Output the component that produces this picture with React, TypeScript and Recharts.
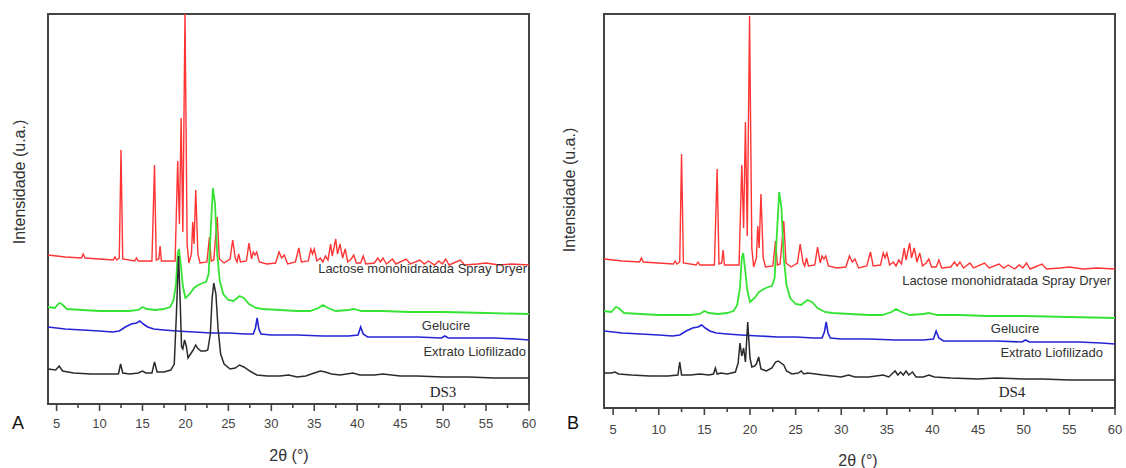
import React from "react";
import { LineChart, Line, XAxis, YAxis, ReferenceArea } from "recharts";

// 2θ (°) vs intensity (u.a.), stacked patterns
const LACTOSE: [number, number][] = [
  [4, 149], [6, 147], [7.9, 146], [8.1, 150], [8.3, 146], [11.6, 144], [11.8, 147], [12.0, 144],
  [12.3, 146], [12.5, 254], [12.7, 145], [14.1, 143], [14.3, 146], [14.5, 143], [16.1, 143],
  [16.4, 239], [16.6, 144], [16.9, 145], [17.05, 158], [17.2, 143], [18.8, 143], [19.1, 243],
  [19.3, 180], [19.5, 286], [19.7, 172], [19.95, 392], [20.2, 160], [20.4, 141], [20.7, 150],
  [20.85, 182], [21.0, 160], [21.2, 214], [21.45, 150], [21.7, 141], [22.5, 142], [22.8, 167],
  [23.0, 143], [23.3, 144], [23.7, 187], [23.95, 145], [24.5, 141], [25.2, 145], [25.5, 164],
  [25.8, 146], [26.0, 142], [26.2, 150], [26.4, 142], [27.1, 143], [27.4, 161], [27.7, 145],
  [27.9, 152], [28.1, 149], [28.3, 152], [28.6, 142], [29.5, 140], [30.5, 141], [30.9, 152],
  [31.2, 146], [31.5, 149], [31.9, 140], [32.8, 142], [33.2, 156], [33.5, 142], [34.3, 143],
  [34.6, 155], [34.8, 150], [35.0, 155], [35.3, 143], [35.7, 146], [36.0, 142], [36.3, 148],
  [36.6, 144], [36.9, 160], [37.1, 148], [37.5, 165], [37.7, 150], [38.0, 160], [38.3, 146],
  [38.6, 155], [38.9, 142], [39.3, 145], [39.6, 149], [39.9, 141], [40.4, 141], [40.7, 148],
  [41.0, 140], [42.0, 141], [42.4, 146], [42.7, 142], [43.0, 146], [43.4, 140], [44.1, 145],
  [44.5, 140], [45.7, 145], [46.2, 140], [47.3, 144], [47.8, 140], [48.3, 143], [49.0, 139],
  [49.5, 143], [49.9, 140], [50.3, 145], [50.7, 139], [52.0, 144], [52.5, 139], [54.0, 140],
  [55.0, 141], [56.5, 139], [58, 140], [60, 139],
];

const GELUCIRE: [number, number][] = [
  [4, 97], [4.8, 96], [5.3, 101], [5.6, 100], [6.2, 95], [8, 94], [10, 93], [12, 93], [13.5, 93],
  [14.5, 94], [15, 97], [15.5, 95], [16.5, 94], [17.5, 95], [18.2, 97], [18.6, 103], [18.9, 120],
  [19.1, 150], [19.25, 155], [19.45, 140], [19.7, 118], [20.0, 106], [20.5, 110], [21.0, 116],
  [21.5, 119], [22.0, 121], [22.4, 122], [22.7, 130], [22.95, 175], [23.2, 216], [23.45, 200],
  [23.7, 150], [24.0, 123], [24.4, 110], [25.0, 104], [25.6, 103], [26.3, 108], [26.8, 106],
  [27.4, 100], [28.2, 96], [29, 95], [31, 94], [33, 93], [34.5, 93], [35.5, 96], [36.0, 99],
  [36.6, 96], [37.5, 93], [39, 94], [39.6, 95], [40.5, 93], [43, 93], [46, 92], [50, 92],
  [55, 91], [60, 90],
];

const EXTRATO: [number, number][] = [
  [4, 77], [6, 75], [8, 74], [10, 73], [11.5, 72], [12.3, 73], [13, 77], [13.7, 80], [14.3, 81],
  [14.7, 83], [15.1, 80], [15.6, 77], [16.3, 75], [17.5, 74], [19, 73], [21, 72], [23, 71],
  [25, 71], [27, 70], [27.9, 70], [28.15, 76], [28.35, 86], [28.55, 75], [28.8, 70], [30, 69],
  [33, 69], [36, 68], [39, 68], [40.1, 69], [40.4, 77], [40.7, 70], [41.2, 67], [44, 67],
  [47, 67], [49.8, 66], [50.2, 68], [50.6, 66], [53, 66], [56, 66], [58.5, 65], [60, 64],
];

const DS3: [number, number][] = [
  [4, 35], [4.9, 34], [5.3, 38], [5.7, 33], [7, 31], [9, 30], [11, 30], [12.2, 30], [12.45, 40],
  [12.7, 31], [13.5, 30], [14.5, 31], [15.0, 33], [15.4, 31], [16.1, 31], [16.4, 42], [16.7, 32],
  [17.5, 32], [18.3, 34], [18.7, 40], [18.95, 90], [19.2, 148], [19.4, 100], [19.55, 57],
  [19.7, 55], [19.9, 64], [20.1, 58], [20.3, 46], [20.6, 50], [20.9, 54], [21.2, 59], [21.4, 56],
  [21.8, 53], [22.3, 53], [22.6, 54], [22.9, 70], [23.1, 105], [23.3, 121], [23.55, 110],
  [23.8, 75], [24.1, 50], [24.5, 40], [25.2, 35], [25.8, 36], [26.3, 39], [26.8, 37], [27.5, 33],
  [28.3, 29], [29.5, 28], [31, 28], [32, 29], [33, 27], [34, 28], [35, 31], [35.7, 33], [36.3, 32],
  [37, 30], [38, 29], [39.5, 31], [40.3, 29], [42, 29], [43, 30], [45, 28], [47, 28], [50, 27],
  [53, 27], [56, 26], [60, 26],
];

const DS4: [number, number][] = [
  [4, 35], [4.8, 35], [5.2, 36], [5.6, 34], [7, 33], [9, 32], [11, 32], [12.1, 33], [12.3, 46],
  [12.5, 33], [13.5, 33], [14.5, 34], [15.5, 33], [16.0, 34], [16.2, 40], [16.4, 34], [16.8, 35],
  [17.5, 34], [18.4, 36], [18.7, 45], [18.9, 65], [19.1, 52], [19.3, 60], [19.5, 46], [19.75, 86],
  [20.0, 50], [20.2, 41], [20.5, 42], [20.7, 44], [20.95, 51], [21.2, 39], [21.8, 37], [22.4, 40],
  [22.8, 46], [23.1, 47], [23.4, 45], [23.7, 43], [24.0, 37], [24.6, 34], [25.3, 35], [25.6, 37],
  [25.9, 34], [26.3, 35], [27.2, 34], [28.0, 33], [29, 32], [30, 31], [30.8, 33], [31.5, 31],
  [33, 31], [34.6, 33], [35.2, 31], [35.9, 37], [36.2, 33], [36.5, 36], [36.8, 33], [37.1, 37],
  [37.4, 33], [37.8, 36], [38.2, 31], [39, 31], [39.6, 33], [40.2, 31], [42, 30], [45, 29],
  [47, 30], [50, 29], [52, 29], [55, 28], [58, 28], [60, 28],
];

const X_TICKS = [5, 7.5, 10, 12.5, 15, 17.5, 20, 22.5, 25, 27.5, 30, 32.5, 35, 37.5, 40, 42.5, 45, 47.5, 50, 52.5, 55, 57.5, 60];

const toPts = (arr: [number, number][]) => arr.map(([x, y]) => ({ x, y }));

const SANS = "'Liberation Sans', Arial, sans-serif";
const SERIF = "'Liberation Serif', 'Times New Roman', serif";

function TwoThetaTick(props: any) {
  const { x, y, payload, gap } = props;
  const major = payload.value % 5 === 0;
  return (
    <g>
      <line x1={x} x2={x} y1={y} y2={y + (major ? 7 : 4)} stroke="#444" strokeWidth={1.6} />
      {major && (
        <text x={x} y={y + gap} textAnchor="middle" dominantBaseline="central" fontSize={13} fill="#444" fontFamily={SANS}>
          {payload.value}
        </text>
      )}
    </g>
  );
}

function Txt({ x, y, right, children, size = 13, font = SANS, rotate, color = "#333" }: any) {
  const style: React.CSSProperties = {
    position: "absolute",
    top: y,
    fontSize: size,
    fontFamily: font,
    color,
    whiteSpace: "nowrap",
    lineHeight: 1,
  };
  if (right !== undefined) {
    style.left = right;
    style.transform = "translate(-100%, -50%)";
  } else {
    style.left = x;
    style.transform = `translate(-50%, -50%)${rotate ? ` rotate(${rotate}deg)` : ""}`;
  }
  return <div style={style}>{children}</div>;
}

function Panel({ width, yMax, margin, gap, black }: any) {
  return (
    <LineChart width={width} height={468} margin={margin}>
      <XAxis
        type="number"
        dataKey="x"
        domain={[4, 60]}
        ticks={X_TICKS}
        interval={0}
        height={60}
        axisLine={false}
        tickLine={false}
        tickSize={0}
        tickMargin={0}
        tick={<TwoThetaTick gap={gap} />}
      />
      <YAxis hide type="number" domain={[0, yMax]} allowDataOverflow />
      <ReferenceArea x1={4} x2={60} y1={0} y2={yMax} fill="none" stroke="#444" strokeWidth={2} />
      <Line data={toPts(LACTOSE)} dataKey="y" stroke="#ff3434" strokeWidth={1.4} dot={false} isAnimationActive={false} />
      <Line data={toPts(GELUCIRE)} dataKey="y" stroke="#35e335" strokeWidth={1.8} dot={false} isAnimationActive={false} />
      <Line data={toPts(EXTRATO)} dataKey="y" stroke="#2424d6" strokeWidth={1.6} dot={false} isAnimationActive={false} />
      <Line data={toPts(black)} dataKey="y" stroke="#2b2b2b" strokeWidth={1.5} dot={false} isAnimationActive={false} />
    </LineChart>
  );
}

export default function App() {
  return (
    <div style={{ position: "absolute", left: 0, top: 0, width: 1126, height: 468, background: "#fff", overflow: "hidden" }}>
      <div style={{ position: "absolute", left: 0, top: 0 }}>
        <Panel width={560} yMax={390} margin={{ top: 14, right: 31, bottom: 4, left: 48 }} gap={19} black={DS3} />
      </div>
      <div style={{ position: "absolute", left: 560, top: 0 }}>
        <Panel width={566} yMax={394} margin={{ top: 14, right: 11, bottom: 0, left: 44 }} gap={21} black={DS4} />
      </div>

      <Txt x={20} y={182} size={16} rotate={-90}>Intensidade (u.a.)</Txt>
      <Txt x={289} y={456} size={16}>2θ (°)</Txt>
      <Txt x={18} y={423} size={18} color="#111">A</Txt>
      <Txt right={527} y={268}>Lactose monohidratada Spray Dryer</Txt>
      <Txt x={446} y={325}>Gelucire</Txt>
      <Txt right={526} y={351}>Extrato Liofilizado</Txt>
      <Txt x={443} y={392} size={15} font={SERIF} color="#222">DS3</Txt>

      <Txt x={570} y={190} size={16} rotate={-90}>Intensidade (u.a.)</Txt>
      <Txt x={858} y={461} size={16}>2θ (°)</Txt>
      <Txt x={573} y={423} size={18} color="#111">B</Txt>
      <Txt right={1111} y={280}>Lactose monohidratada Spray Dryer</Txt>
      <Txt x={1015} y={328}>Gelucire</Txt>
      <Txt right={1103} y={352}>Extrato Liofilizado</Txt>
      <Txt x={1012} y={392} size={15} font={SERIF} color="#222">DS4</Txt>
    </div>
  );
}
